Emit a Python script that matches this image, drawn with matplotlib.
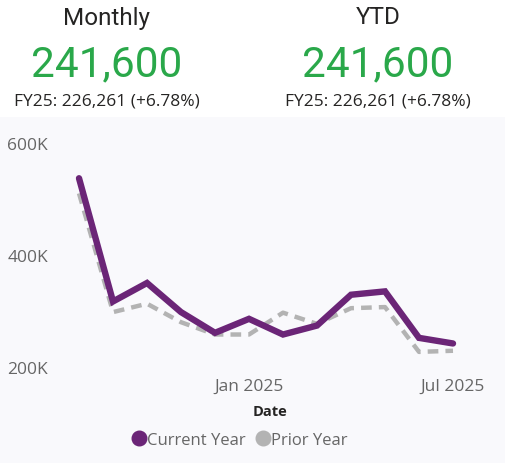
import matplotlib
matplotlib.use("Agg")
import matplotlib.pyplot as plt
from matplotlib.lines import Line2D

months = ["Aug 2024", "Sep 2024", "Oct 2024", "Nov 2024", "Dec 2024", "Jan 2025",
          "Feb 2025", "Mar 2025", "Apr 2025", "May 2025", "Jun 2025", "Jul 2025"]
current_year = [537, 317, 350, 298, 261, 286, 258, 274, 329, 335, 252, 242]  # thousands
prior_year = [510, 298, 313, 280, 258, 258, 297, 277, 305, 307, 227, 229]  # thousands
y_ticks = [200, 400, 600]
y_tick_labels = ["200K", "400K", "600K"]
x_tick_idx = [5, 11]
x_tick_labels = ["Jan 2025", "Jul 2025"]

W, H = 506, 464
fig = plt.figure(figsize=(W / 100, H / 100), dpi=100)
fig.patch.set_facecolor("white")

# light chart panel
bg = fig.add_axes([0, 0, 1, (H - 118) / H])
bg.set_facecolor("#f9f9fc")
bg.set_xticks([]); bg.set_yticks([])
for s in bg.spines.values():
    s.set_visible(False)
bg.set_zorder(0)

FONT = "Open Sans"
green = "#2aa84a"
purple = "#6b2577"
gray = "#b3b3b3"

def fx(px):
    return px / W

def fy(py):
    return 1 - py / H

# Cards
for cx, title in [(107, "Monthly"), (378, "YTD")]:
    fig.text(fx(cx), fy(18), title, ha="center", va="center", fontsize=17.5,
             family="Roboto", color="#252423")
    fig.text(fx(cx), fy(65), "241,600", ha="center", va="center", fontsize=30.5,
             family="Roboto", color=green)
    fig.text(fx(cx), fy(102), "FY25: 226,261 (+6.78%)", ha="center", va="center",
             fontsize=12.5, family=FONT, color="#252423")

# Line chart axes
left, right, top, bottom = 70, 470, 135, 375
ax = fig.add_axes([fx(left), fy(bottom), fx(right - left), (bottom - top) / H])
ax.patch.set_alpha(0)
ax.set_zorder(1)
x = list(range(len(months)))
ax.plot(x, prior_year, color=gray, lw=3.2, ls=(0, (2.4, 1.6)), solid_capstyle="butt",
        dash_capstyle="butt", zorder=2)
ax.plot(x, current_year, color=purple, lw=4.6, solid_capstyle="round",
        solid_joinstyle="miter", zorder=3)
ax.set_xlim(-0.265, 11.5)
ax.set_ylim(187.5, 616)
for s in ax.spines.values():
    s.set_visible(False)
ax.set_yticks(y_ticks)
ax.set_yticklabels(y_tick_labels)
ax.set_xticks(x_tick_idx)
ax.set_xticklabels(x_tick_labels)
ax.tick_params(axis="both", length=0, colors="#666666", labelsize=12.5)
ax.tick_params(axis="y", pad=15.8)
ax.tick_params(axis="x", pad=3)
for lab in ax.get_xticklabels() + ax.get_yticklabels():
    lab.set_family(FONT)
ax.set_xlabel("Date", fontsize=10.5, fontweight="bold", family=FONT, color="#252423",
              labelpad=7)

handles = [Line2D([], [], ls="", marker="o", ms=10.5, color=purple),
           Line2D([], [], ls="", marker="o", ms=10.5, color=gray)]
leg = fig.legend(handles, ["Current Year", "Prior Year"], loc="center",
                 bbox_to_anchor=(fx(240), fy(441)), ncol=2, frameon=False,
                 handlelength=0.8, handletextpad=0.1, columnspacing=0.6,
                 prop={"family": FONT, "size": 12})
for t in leg.get_texts():
    t.set_color("#666666")

fig.savefig("out.png", dpi=100, facecolor=fig.get_facecolor())
